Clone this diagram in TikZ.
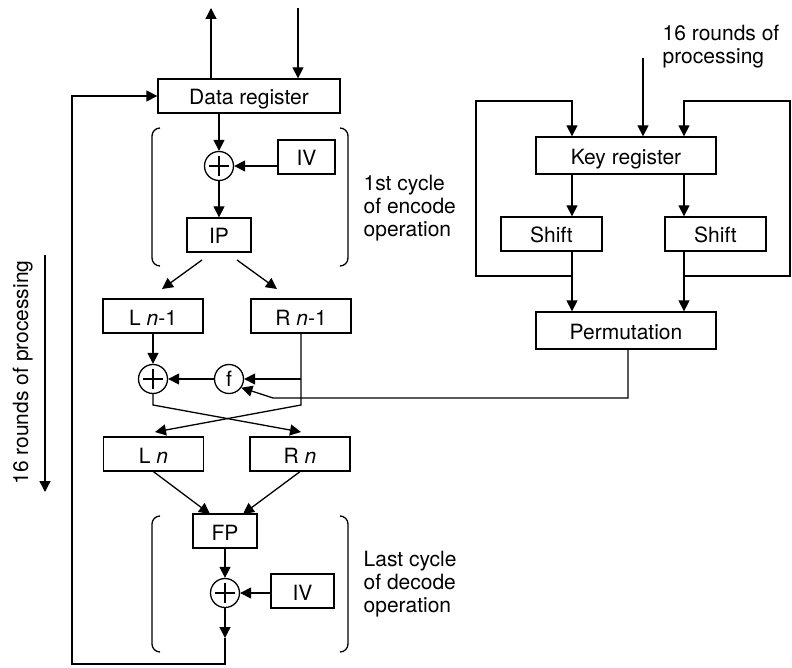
\documentclass[tikz,border=0pt]{standalone}
\usepackage{fontspec}
\setmainfont{TeX Gyre Heros}
\usetikzlibrary{arrows.meta}
\begin{document}
\begin{tikzpicture}[x=1pt,y=-1pt, line width=1.3pt,
  every node/.style={font=\fontsize{21}{23}\selectfont},
  box/.style={draw, minimum height=34pt, inner sep=0pt, text height=18pt, text depth=0pt},
  xorc/.style={draw, circle, minimum size=29pt, inner sep=0pt,
    path picture={
      \draw[line width=1.8pt] ([xshift=-10pt]path picture bounding box.center) -- ([xshift=10pt]path picture bounding box.center);
      \draw[line width=1.8pt] ([yshift=-10pt]path picture bounding box.center) -- ([yshift=10pt]path picture bounding box.center);}},
  fcirc/.style={draw, circle, minimum size=29pt, inner sep=0pt},
  arr/.style={-{Triangle[length=11pt,width=11pt]}},
  brk/.style={rounded corners=8pt},
  lbl/.style={align=left, anchor=north west, inner sep=0pt}]
\useasboundingbox (0,0) rectangle (792,668);

% nodes, left part
\node[box, minimum width=182pt] (dr) at (249,96) {Data register};
\node[box, minimum width=57pt] (iv1) at (306.5,157) {IV};
\node[xorc] (x1) at (219,166) {};
\node[box, minimum width=64pt] (ip) at (219,235) {IP};
\node[box, minimum width=100pt] (ln1) at (153,316) {L \textit{n}-1};
\node[box, minimum width=100pt] (rn1) at (301,316) {R \textit{n}-1};
\node[xorc] (x2) at (153,379) {};
\node[fcirc] (f) at (229,379) {f};
\node[box, minimum width=100pt] (ln) at (153.5,454) {L \textit{n}};
\node[box, minimum width=100pt] (rn) at (300,454) {R \textit{n}};
\node[box, minimum width=64pt] (fp) at (225,531) {FP};
\node[xorc] (x3) at (225,593) {};
\node[box, minimum width=63pt] (iv2) at (302.5,591) {IV};

% nodes, key part
\node[box, minimum width=180pt, minimum height=37pt] (kr) at (626,155.5) {Key register};
\node[box, minimum width=101pt] (shl) at (551.5,234) {Shift};
\node[box, minimum width=101pt] (shr) at (715.5,234) {Shift};
\node[box, minimum width=180pt, minimum height=37pt] (perm) at (626,330.5) {Permutation};

% labels
\node[lbl] (c1) at (363,175) {1st cycle\\of encode\\operation};
\node[lbl] (c2) at (363,551) {Last cycle\\of decode\\operation};
\node[lbl] (c3) at (662,24.5) {16 rounds of\\processing};
\node[rotate=90, anchor=base, inner sep=0pt] (vt) at (28,372.5) {16 rounds of processing};

% coordinates
\coordinate (out) at (211,8);
\coordinate (in) at (298,8);
\coordinate (ipl) at (202,260);
\coordinate (lt) at (162,289);
\coordinate (ipr) at (237,260);
\coordinate (rt) at (277,289);
\coordinate (rb) at (301,405);
\coordinate (xb) at (153,405);
\coordinate (lnt) at (155,432);
\coordinate (rnt) at (301,432);
\coordinate (pc) at (628,398);
\coordinate (pk) at (273,398);
\coordinate (fpl) at (210,514);
\coordinate (fpr) at (243,514);
\coordinate (ot) at (225,638);
\coordinate (bl) at (72,664);
\coordinate (in2) at (643,58);
\coordinate (cl) at (572,0);
\coordinate (cr) at (684,0);
\coordinate (llb) at (476,276);
\coordinate (llt) at (476,101);
\coordinate (rrb) at (790,276);
\coordinate (rrt) at (790,101);
\coordinate (va) at (45,255);
\coordinate (vb) at (45,492);

% brackets
\draw[brk] (160,128) -- (152,128) -- (152,266) -- (160,266);
\draw[brk] (340,128) -- (348,128) -- (348,266) -- (340,266);
\draw[brk] (160,516) -- (152,516) -- (152,652) -- (160,652);
\draw[brk] (340,516) -- (348,516) -- (348,652) -- (340,652);

% connectors, data path
\draw[arr] (dr.north -| out) -- (out);
\draw[arr] (in) -- (in |- dr.north);
\draw[arr] (dr.south -| x1) -- (x1.north);
\draw[arr] (iv1.west |- x1) -- (x1.east);
\draw[arr] (x1.south) -- (ip.north);
\draw[arr] (ipl) -- (lt);
\draw[arr] (ipr) -- (rt);
\draw[arr] (ln1.south) -- (x2.north);
\draw[arr] (f.west) -- (x2.east);
\draw[arr] (rn1.south) -- (rb) -- (lnt);
\draw[arr] (x2.south) -- (xb) -- (rnt);
\draw[arr] (rn1.south |- f) -- (f.east);
\draw[arr] (perm.south -| pc) -- (pc) -- (pk) -- (f.-35);
\draw[arr] (ln.south) -- (fpl);
\draw[arr] (rn.south) -- (fpr);
\draw[arr] (fp.south) -- (x3.north);
\draw[arr] (iv2.west |- x3) -- (x3.east);
\draw[arr] (x3.south) -- (ot);
\draw[arr] (ot) -- (ot |- bl) -- (bl) -- (bl |- dr.west) -- (dr.west);

% connectors, key path
\draw[arr] (in2) -- (in2 |- kr.north);
\draw[arr] (kr.south -| cl) -- (shl.north -| cl);
\draw[arr] (kr.south -| cr) -- (shr.north -| cr);
\draw[arr] (shl.south -| cl) -- (perm.north -| cl);
\draw[arr] (shr.south -| cr) -- (perm.north -| cr);
\draw[arr] (cl |- llb) -- (llb) -- (llt) -- (cl |- llt) -- (kr.north -| cl);
\draw[arr] (cr |- rrb) -- (rrb) -- (rrt) -- (cr |- rrt) -- (kr.north -| cr);

% side arrow
\draw[arr] (va) -- (vb);
\end{tikzpicture}
\end{document}
